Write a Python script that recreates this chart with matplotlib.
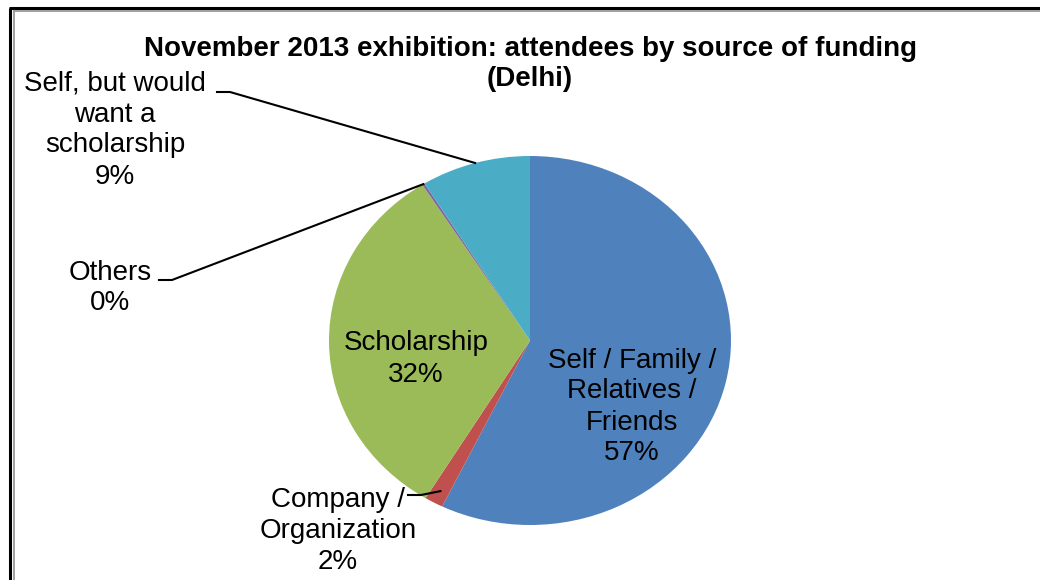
import matplotlib
matplotlib.use("Agg")
import matplotlib.pyplot as plt
import numpy as np

# ---- data ----
categories = ["Self / Family /\nRelatives /\nFriends",
              "Company /\nOrganization",
              "Scholarship",
              "Others",
              "Self, but would\nwant a\nscholarship"]
values = [57.2, 1.5, 32.3, 0.2, 8.8]
pct_labels = ["57%", "2%", "32%", "0%", "9%"]
colors = ["#4F81BD", "#C0504D", "#9BBB59", "#8064A2", "#4BACC6"]
title = "November 2013 exhibition: attendees by source of funding\n(Delhi)"

plt.rcParams['font.family'] = ['Liberation Sans', 'DejaVu Sans']

W, H = 1040, 580
fig = plt.figure(figsize=(W / 100, H / 100), dpi=100)
fig.patch.set_facecolor("white")

# pie axes (elliptical pie: aspect auto)
cx, cy, rx, ry = 530, 340.5, 201, 184.5
pie_ax = fig.add_axes([(cx - rx) / W, (H - cy - ry) / H, 2 * rx / W, 2 * ry / H])
wedges, _ = pie_ax.pie(values, colors=colors, startangle=90, counterclock=False,
                       radius=1.0, wedgeprops=dict(linewidth=0))
pie_ax.set_xlim(-1, 1)
pie_ax.set_ylim(-1, 1)
pie_ax.set_aspect("auto")
pie_ax.axis("off")

# overlay axes in pixel coordinates
ov = fig.add_axes([0, 0, 1, 1], facecolor="none")
ov.set_xlim(0, W)
ov.set_ylim(H, 0)
ov.axis("off")

def wedge_point(i, frac=1.0, where=0.5):
    w = wedges[i]
    th = np.deg2rad(w.theta1 + (w.theta2 - w.theta1) * where)
    p = pie_ax.transData.transform((frac * np.cos(th), frac * np.sin(th)))
    return ov.transData.inverted().transform(p)

fs = 20
ls = 1.25
# inside labels
ov.text(632, 407, categories[0] + "\n" + pct_labels[0], ha="center", va="center",
        fontsize=fs, linespacing=ls)
ov.text(416, 359, categories[2] + "\n" + pct_labels[2], ha="center", va="center",
        fontsize=fs, linespacing=ls)

# outside labels with leader lines
ov.text(338, 531, categories[1] + "\n" + pct_labels[1], ha="center", va="center",
        fontsize=fs, linespacing=ls)
p = wedge_point(1, 0.93)
ov.plot([408, 421, p[0]], [495, 495, p[1]], color="black", lw=1.5)

ov.text(110, 288, categories[3] + "\n" + pct_labels[3], ha="center", va="center",
        fontsize=fs, linespacing=ls)
p = wedge_point(3, 1.0)
ov.plot([159, 172, p[0]], [280, 280, p[1]], color="black", lw=1.5)

ov.text(115, 130, categories[4] + "\n" + pct_labels[4], ha="center", va="center",
        fontsize=fs, linespacing=ls)
p = wedge_point(4, 1.0)
ov.plot([217, 230, p[0]], [92, 92, p[1]], color="black", lw=1.5)

# title
ov.text(530, 64.5, title, ha="center", va="center", fontsize=20,
        fontweight="bold", linespacing=1.2)

# border (double line)
ov.plot([10, 10], [H + 5, 7.5], color="black", lw=2.2, solid_capstyle="butt")
ov.plot([9, W + 5], [7.5, 7.5], color="black", lw=2.2, solid_capstyle="butt")
ov.plot([13.5, 13.5], [H + 5, 10.5], color="#909090", lw=1.2, solid_capstyle="butt")
ov.plot([13, W + 5], [10.5, 10.5], color="#909090", lw=1.2, solid_capstyle="butt")

fig.savefig("out.png", dpi=100, facecolor="white")
